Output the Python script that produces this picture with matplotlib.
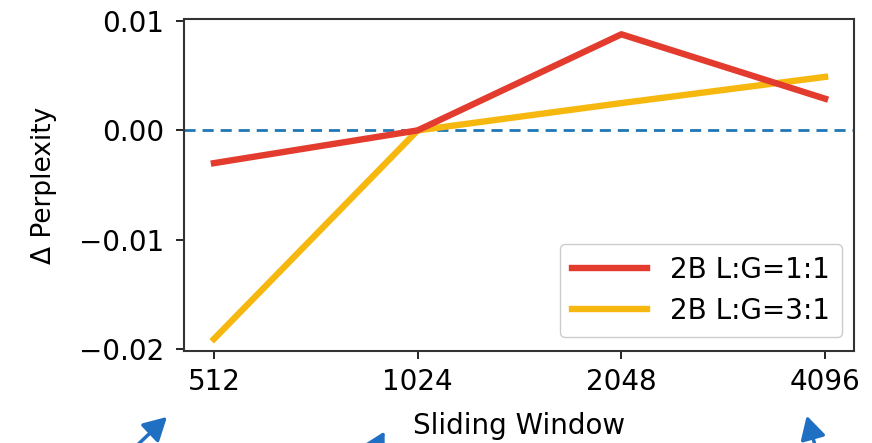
import matplotlib.pyplot as plt
from matplotlib.patches import FancyArrowPatch

# sliding window sizes and perplexity deltas relative to 1024
windows = ["512", "1024", "2048", "4096"]
delta_1to1 = [-0.0030, 0.0, 0.0088, 0.0029]
delta_3to1 = [-0.0191, 0.0, 0.0025, 0.0049]
labels = ["2B L:G=1:1", "2B L:G=3:1"]

W, H = 872, 443
fig = plt.figure(figsize=(W / 100, H / 100), dpi=100)
ax = fig.add_axes([184 / W, 1 - 351 / H, (854 - 184) / W, (351 - 19) / H])

x = range(len(windows))
ax.axhline(0, color="#1f77b4", linestyle="--", linewidth=2, dashes=(4, 2.5), zorder=1)
ax.plot(x, delta_1to1, color="#e33b2e", linewidth=4.6, label=labels[0], zorder=3)
ax.plot(x, delta_3to1, color="#f6b80f", linewidth=4.6, label=labels[1], zorder=2)

ax.set_xlim(-0.147, 3.142)
ax.set_ylim(-0.0202, 0.0102)
ax.set_xticks(list(x))
ax.set_xticklabels(windows)
ax.set_yticks([0.01, 0.0, -0.01, -0.02])
ax.set_yticklabels(["0.01", "0.00", "\u22120.01", "\u22120.02"])
ax.tick_params(labelsize=20, width=1.2, length=6)
ax.tick_params(axis="x", pad=6)
ax.tick_params(axis="y", pad=8)
for s in ax.spines.values():
    s.set_linewidth(1.5)
    s.set_color("#333333")

ax.set_xlabel("Sliding Window", fontsize=20, labelpad=12)
ax.set_ylabel("\u0394 Perplexity", fontsize=19, labelpad=16)
ax.legend(loc="lower right", fontsize=20, handlelength=2.7, borderpad=0.45,
          labelspacing=0.45, handletextpad=0.8, framealpha=1, edgecolor="#cccccc",
          bbox_to_anchor=(1.003, 0.0))

# pointer arrows below the axis
def px(xp, yp):
    return (xp / W, 1 - yp / H)

for tail, head in [((130, 452), (169, 415)), ((370, 458), (386, 429)), ((818, 456), (806, 413))]:
    fig.add_artist(FancyArrowPatch(px(*tail), px(*head), transform=fig.transFigure,
                                   arrowstyle="-|>,head_length=1.0,head_width=0.55",
                                   color="#1f6fc2", linewidth=2.5, mutation_scale=14))

fig.savefig("out.png", dpi=100)
